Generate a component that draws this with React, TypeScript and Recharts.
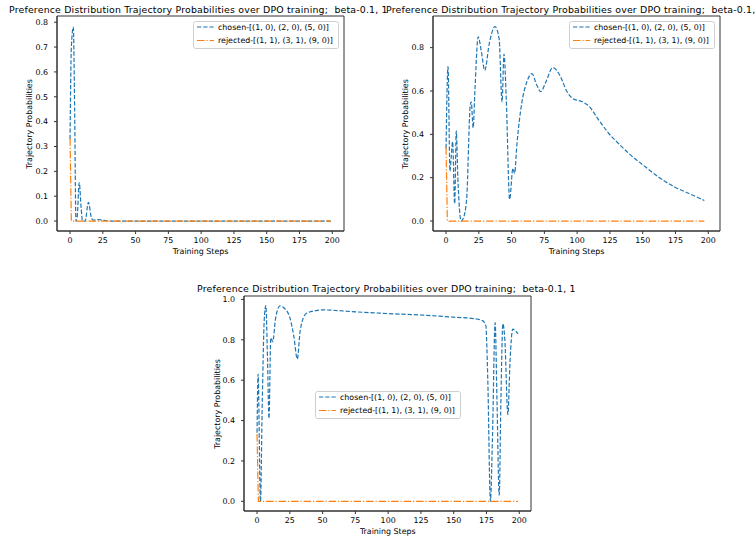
import React from "react";
import { LineChart, Line, XAxis, YAxis, Legend, ReferenceArea } from "recharts";

const FONT = "'DejaVu Sans', sans-serif";
const BLUE = "#1f77b4";
const ORANGE = "#ff7f0e";
const FRAME = "#333";

const TITLE = "Preference Distribution Trajectory Probabilities over DPO training;  beta-0.1, 1";
const CHOSEN_LABEL = "chosen-[(1, 0), (2, 0), (5, 0)]";
const REJECTED_LABEL = "rejected-[(1, 1), (3, 1), (9, 0)]";
const X_LABEL = "Training Steps";
const Y_LABEL = "Trajectory Probabilities";

const X_TICKS = [0, 25, 50, 75, 100, 125, 150, 175, 200];
const X_DOMAIN = [-9.95, 208.95];

// run 1 (top left)
const run1Steps = [0, 1, 2.5, 3.5, 4.5, 5.5, 7, 8.5, 9.5, 11.5, 14, 16.5, 18, 21, 25, 30, 199];
const run1Chosen = [0.33, 0.7, 0.78, 0.45, 0.0, 0.02, 0.155, 0.05, 0.0, 0.0, 0.075, 0.01, 0.004, 0.006, 0.004, 0.0, 0.0];
const run1RejSteps = [0, 1, 199];
const run1Rejected = [0.333, 0.0, 0.0];
const run1YTicks = [0, 0.1, 0.2, 0.3, 0.4, 0.5, 0.6, 0.7, 0.8];

// run 2 (top right)
const run2Steps = [
  0, 1.5, 3, 4, 5, 6.6, 7.8, 9, 11.5, 13, 15.7, 18.4, 19.2, 20.7, 22, 24.5, 27, 29.5, 33, 37.3,
  40.5, 42.7, 44.2, 46, 48.5, 51, 52.3, 54, 57.9, 61.5, 65.5, 69, 72.3, 76, 81.5, 87, 92, 96.5,
  104, 109, 116, 124, 132, 140.7, 152, 163.4, 175, 186, 197
];
const run2Chosen = [
  0.336, 0.712, 0.23, 0.3, 0.366, 0.08, 0.415, 0.2, 0.0, 0.01, 0.1, 0.53, 0.55, 0.43, 0.6, 0.85,
  0.78, 0.695, 0.82, 0.897, 0.84, 0.55, 0.77, 0.55, 0.1, 0.243, 0.22, 0.35, 0.55, 0.64, 0.68, 0.63,
  0.597, 0.64, 0.708, 0.67, 0.6, 0.566, 0.55, 0.53, 0.47, 0.405, 0.355, 0.305, 0.25, 0.197, 0.155,
  0.125, 0.095
];
const run2RejSteps = [0, 1, 197];
const run2Rejected = [0.34, 0.0, 0.0];
const run2YTicks = [0, 0.2, 0.4, 0.6, 0.8];

// run 3 (bottom)
const run3Steps = [
  0, 0.8, 2.6, 4, 5.5, 6.7, 8, 9.1, 10.5, 12, 14, 17.5, 21, 25, 28, 30.7, 33, 37.5, 45, 50, 76,
  100, 127, 150, 165.5, 172, 174.5, 176, 178, 179.5, 181.6, 183, 184.7, 186, 187.5, 189, 191.3,
  193, 195, 197, 199
];
const run3Chosen = [
  0.34, 0.63, 0.0, 0.5, 0.9, 0.97, 0.7, 0.41, 0.81, 0.79, 0.9, 0.968, 0.955, 0.91, 0.82, 0.705,
  0.85, 0.93, 0.945, 0.948, 0.938, 0.93, 0.922, 0.912, 0.905, 0.895, 0.87, 0.6, 0.0, 0.3, 0.885,
  0.5, 0.03, 0.5, 0.88, 0.8, 0.43, 0.7, 0.853, 0.845, 0.83
];
const run3RejSteps = [0, 1, 199];
const run3Rejected = [0.333, 0.0, 0.0];
const run3YTicks = [0, 0.2, 0.4, 0.6, 0.8, 1.0];

const toRows = (steps: number[], vals: number[]) => steps.map((s, i) => ({ step: s, p: vals[i] }));

const CHOSEN_DASH = "4.3 1.9";
const REJECTED_DASH = "7.5 1.9 1.2 1.9";

const tickStyle = { fill: "#000", fontSize: 7.9, fontFamily: FONT };

const LegendBox = () => (
  <svg width={147} height={28} style={{ display: "block" }}>
    <rect x={0.5} y={0.5} width={145} height={27} rx={2} fill="#fff" fillOpacity={0.8} stroke="#cfcfcf" />
    <line x1={4} x2={21} y1={6} y2={6} stroke={BLUE} strokeWidth={1.2} strokeDasharray={CHOSEN_DASH} />
    <text x={25} y={6} dominantBaseline="central" fontSize={7.9} fontFamily={FONT} fill="#000">{CHOSEN_LABEL}</text>
    <line x1={4} x2={21} y1={19.5} y2={19.5} stroke={ORANGE} strokeWidth={1.2} strokeDasharray={REJECTED_DASH} />
    <text x={25} y={19.5} dominantBaseline="central" fontSize={7.9} fontFamily={FONT} fill="#000">{REJECTED_LABEL}</text>
  </svg>
);

interface PanelProps {
  left: number;
  top: number;
  chosen: { step: number; p: number }[];
  rejected: { step: number; p: number }[];
  yTicks: number[];
  yDomain: number[];
  legendLeft: number;
  legendTop: number;
}

const ML = 57;
const MT = 16;
const PW = 287;
const PH = 215;
const XH = 39;
const CW = 380;
const CH = 270;

const Panel = ({ left, top, chosen, rejected, yTicks, yDomain, legendLeft, legendTop }: PanelProps) => (
  <div style={{ position: "absolute", left, top }}>
    <LineChart
      width={CW}
      height={CH}
      margin={{ top: MT, left: 0, right: CW - ML - PW, bottom: CH - MT - PH - XH }}
    >
      <XAxis
        xAxisId="b"
        type="number"
        dataKey="step"
        domain={X_DOMAIN}
        ticks={X_TICKS}
        interval={0}
        allowDataOverflow
        height={XH}
        tickSize={3}
        tickMargin={3}
        tick={tickStyle}
        stroke={FRAME}
      />
      <YAxis
        yAxisId="l"
        type="number"
        domain={yDomain}
        ticks={yTicks}
        interval={0}
        allowDataOverflow
        width={ML}
        tickSize={3}
        tickMargin={6}
        tick={tickStyle}
        tickFormatter={(v: number) => v.toFixed(1)}
        stroke={FRAME}
      />
      {/* full box like matplotlib spines */}
      <ReferenceArea
        xAxisId="b"
        yAxisId="l"
        x1={X_DOMAIN[0]}
        x2={X_DOMAIN[1]}
        y1={yDomain[0]}
        y2={yDomain[1]}
        fill="none"
        fillOpacity={0}
        stroke={FRAME}
        strokeWidth={1}
        ifOverflow="visible"
      />
      <Line
        xAxisId="b"
        yAxisId="l"
        data={chosen}
        dataKey="p"
        name={CHOSEN_LABEL}
        type="monotone"
        stroke={BLUE}
        strokeWidth={1.2}
        strokeDasharray={CHOSEN_DASH}
        dot={false}
        activeDot={false}
        isAnimationActive={false}
      />
      <Line
        xAxisId="b"
        yAxisId="l"
        data={rejected}
        dataKey="p"
        name={REJECTED_LABEL}
        type="linear"
        stroke={ORANGE}
        strokeWidth={1.2}
        strokeDasharray={REJECTED_DASH}
        dot={false}
        activeDot={false}
        isAnimationActive={false}
      />
      <Legend
        layout="horizontal"
        verticalAlign="middle"
        align="center"
        wrapperStyle={{ left: legendLeft, top: legendTop, width: "auto" }}
        content={() => <LegendBox />}
      />
    </LineChart>
  </div>
);

const textBase: React.CSSProperties = {
  position: "absolute",
  fontFamily: FONT,
  color: "#000",
  whiteSpace: "pre",
  lineHeight: 1,
};

const Title = ({ left, top }: { left: number; top: number }) => (
  <div style={{ ...textBase, left, top, fontSize: 9.4, letterSpacing: 0.18, lineHeight: "13px", height: 13 }}>
    {TITLE}
  </div>
);

const XTitle = ({ cx, cy }: { cx: number; cy: number }) => (
  <div style={{ ...textBase, left: cx, top: cy, fontSize: 7.9, transform: "translate(-50%, -50%)" }}>{X_LABEL}</div>
);

const YTitle = ({ cx, cy }: { cx: number; cy: number }) => (
  <div style={{ ...textBase, left: cx, top: cy, fontSize: 7.9, transform: "translate(-50%, -50%) rotate(-90deg)" }}>
    {Y_LABEL}
  </div>
);

export default function App() {
  return (
    <div style={{ position: "absolute", left: 0, top: 0, width: 756, height: 540, overflow: "hidden", background: "#fff" }}>
      <Panel
        left={0}
        top={0}
        chosen={toRows(run1Steps, run1Chosen)}
        rejected={toRows(run1RejSteps, run1Rejected)}
        yTicks={run1YTicks}
        yDomain={[-0.04, 0.825]}
        legendLeft={193}
        legendTop={21}
      />
      <Panel
        left={376}
        top={0}
        chosen={toRows(run2Steps, run2Chosen)}
        rejected={toRows(run2RejSteps, run2Rejected)}
        yTicks={run2YTicks}
        yDomain={[-0.046, 0.946]}
        legendLeft={193}
        legendTop={21}
      />
      <Panel
        left={187.3}
        top={280}
        chosen={toRows(run3Steps, run3Chosen)}
        rejected={toRows(run3RejSteps, run3Rejected)}
        yTicks={run3YTicks}
        yDomain={[-0.048, 1.017]}
        legendLeft={128}
        legendTop={110.7}
      />
      <Title left={9} top={2.5} />
      <Title left={386} top={2.5} />
      <Title left={197} top={282} />
      <YTitle cx={30} cy={123.5} />
      <YTitle cx={406} cy={123.5} />
      <YTitle cx={217.7} cy={403.5} />
      <XTitle cx={200.5} cy={251.7} />
      <XTitle cx={576.5} cy={251.7} />
      <XTitle cx={387.8} cy={531.7} />
    </div>
  );
}
